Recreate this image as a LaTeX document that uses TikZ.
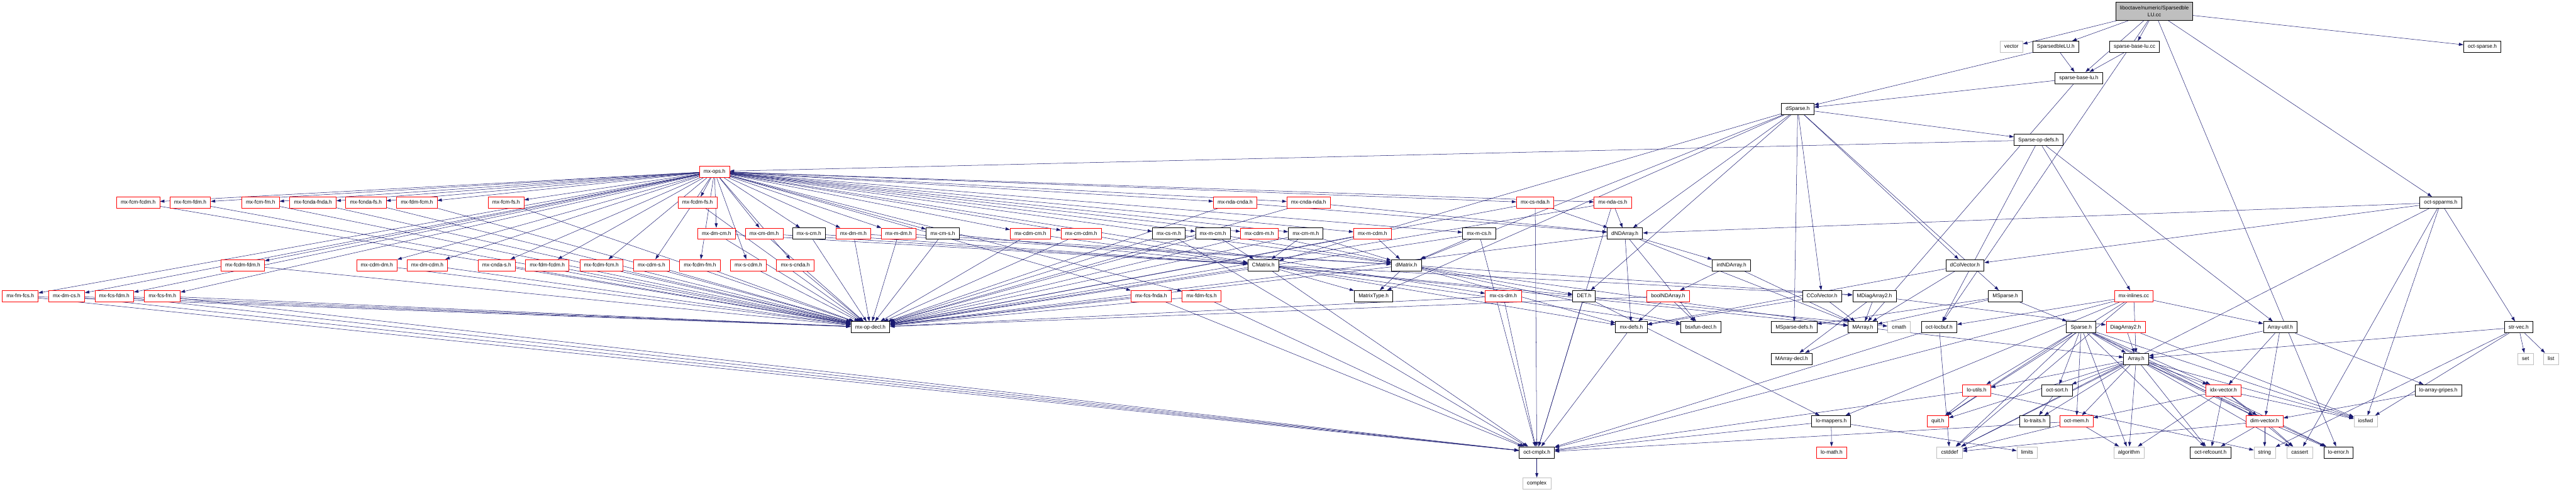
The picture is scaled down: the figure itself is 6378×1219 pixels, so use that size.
\documentclass[tikz,border=0pt]{standalone}
\usepackage{fontspec}
\setmainfont{Liberation Sans}
\usetikzlibrary{arrows.meta}
\definecolor{edgeblue}{HTML}{191970}
\definecolor{sysgrey}{HTML}{BFBFBF}
\pgfdeclarelayer{edges}
\pgfsetlayers{edges,main}

\begin{document}
\begin{tikzpicture}[x=1pt,y=-1pt,>={Triangle[length=11pt,width=7.5pt]},
  font=\fontsize{13}{15}\selectfont,
  hdr/.style={draw=black,line width=1.3pt,fill=white,inner xsep=10.5pt,inner ysep=0pt,
    minimum height=28pt,text height=9.6pt,text depth=2.7pt},
  trunc/.style={hdr,draw=red,line width=1.1pt},
  sys/.style={hdr,draw=sysgrey,line width=1.1pt},
  rootbox/.style={draw=black,line width=1.3pt,fill=sysgrey,align=center,inner xsep=10pt,
    minimum height=45pt,font=\fontsize{13}{16}\selectfont},
  inc/.style={->,draw=edgeblue,line width=0.8pt}]
\useasboundingbox (0,0) rectangle (6378,1219);
% ================ top: the file and its direct headers ================
\node[rootbox] (root) at (5334,28) {liboctave/numeric/Sparsedble\\LU.cc};
\node[sys] (vector) at (4980,116) {vector};
\node[hdr] (sdlu) at (5090,116) {SparsedbleLU.h};
\node[hdr] (sblcc) at (5285,116) {sparse-base-lu.cc};
\node[hdr] (octsparse) at (6146,116) {oct-sparse.h};
\node[hdr] (sblh) at (5147,193) {sparse-base-lu.h};
\node[hdr] (dsparse) at (4451,270) {dSparse.h};
\node[hdr] (spopdefs) at (5047,347) {Sparse-op-defs.h};
\node[trunc] (mxops) at (1769,425) {mx-ops.h};
% ================ mx-*.h rows ================
\node[trunc] (mxfcmfcdm) at (342,502) {mx-fcm-fcdm.h};
\node[trunc] (mxfcmfdm) at (471,502) {mx-fcm-fdm.h};
\node[trunc] (mxfcmfm) at (645,502) {mx-fcm-fm.h};
\node[trunc] (mxfcndafnda) at (775,502) {mx-fcnda-fnda.h};
\node[trunc] (mxfcndafs) at (906,502) {mx-fcnda-fs.h};
\node[trunc] (mxfdmfcm) at (1032,502) {mx-fdm-fcm.h};
\node[trunc] (mxfcmfs) at (1253,502) {mx-fcm-fs.h};
\node[trunc] (mxfcdmfs) at (1727,502) {mx-fcdm-fs.h};
\node[trunc] (mxndacnda) at (3058,502) {mx-nda-cnda.h};
\node[trunc] (mxcndanda) at (3240,502) {mx-cnda-nda.h};
\node[trunc] (mxcsnda) at (3801,502) {mx-cs-nda.h};
\node[trunc] (mxndacs) at (3993,502) {mx-nda-cs.h};
\node[hdr] (octspparms) at (6043,502) {oct-spparms.h};
%
\node[trunc] (mxdmcm) at (1774,579) {mx-dm-cm.h};
\node[trunc] (mxcmdm) at (1892,579) {mx-cm-dm.h};
\node[hdr] (mxscm) at (2003,579) {mx-s-cm.h};
\node[trunc] (mxdmm) at (2113,579) {mx-dm-m.h};
\node[trunc] (mxmdm) at (2225,579) {mx-m-dm.h};
\node[hdr] (mxcms) at (2334,579) {mx-cm-s.h};
\node[trunc] (mxcdmcm) at (2551,579) {mx-cdm-cm.h};
\node[trunc] (mxcmcdm) at (2677,579) {mx-cm-cdm.h};
\node[hdr] (mxcsm) at (2894,579) {mx-cs-m.h};
\node[hdr] (mxmcm) at (3003,579) {mx-m-cm.h};
\node[trunc] (mxcdmm) at (3118,579) {mx-cdm-m.h};
\node[hdr] (mxcmm) at (3233,579) {mx-cm-m.h};
\node[trunc] (mxmcdm) at (3398,579) {mx-m-cdm.h};
\node[hdr] (mxmcs) at (3662,579) {mx-m-cs.h};
\node[hdr] (dndarray) at (4023,579) {dNDArray.h};
%
\node[trunc] (mxfcdmfdm) at (601,657) {mx-fcdm-fdm.h};
\node[trunc] (mxcdmdm) at (933,657) {mx-cdm-dm.h};
\node[trunc] (mxdmcdm) at (1058,657) {mx-dm-cdm.h};
\node[trunc] (mxcndas) at (1230,657) {mx-cnda-s.h};
\node[trunc] (mxfdmfcdm) at (1355,657) {mx-fdm-fcdm.h};
\node[trunc] (mxfcdmfcm) at (1489,657) {mx-fcdm-fcm.h};
\node[trunc] (mxcdms) at (1613,657) {mx-cdm-s.h};
\node[trunc] (mxfcdmfm) at (1733,657) {mx-fcdm-fm.h};
\node[trunc] (mxscdm) at (1853,657) {mx-s-cdm.h};
\node[trunc] (mxscnda) at (1969,657) {mx-s-cnda.h};
\node[hdr] (cmatrix) at (3128,657) {CMatrix.h};
\node[hdr] (dmatrix) at (3482,657) {dMatrix.h};
\node[hdr] (intnda) at (4287,657) {intNDArray.h};
\node[hdr] (dcolvec) at (4865,657) {dColVector.h};
%
\node[trunc] (mxfmfcs) at (50,734) {mx-fm-fcs.h};
\node[trunc] (mxdmcs) at (165,734) {mx-dm-cs.h};
\node[trunc] (mxfcsfdm) at (283,734) {mx-fcs-fdm.h};
\node[trunc] (mxfcsfm) at (402,734) {mx-fcs-fm.h};
\node[trunc] (mxfcsfnda) at (2850,734) {mx-fcs-fnda.h};
\node[trunc] (mxfdmfcs) at (2975,734) {mx-fdm-fcs.h};
\node[hdr] (matrixtype) at (3401,734) {MatrixType.h};
\node[trunc] (mxcsdm) at (3722,734) {mx-cs-dm.h};
\node[hdr] (det) at (3922,734) {DET.h};
\node[trunc] (boolnda) at (4130,734) {boolNDArray.h};
\node[hdr] (ccolvec) at (4511,734) {CColVector.h};
\node[hdr] (mdiag) at (4641,734) {MDiagArray2.h};
\node[hdr] (msparse) at (4965,734) {MSparse.h};
\node[trunc] (mxinl) at (5283,734) {mx-inlines.cc};
% ================ lower rows: liboctave/array, util and system ================
\node[hdr] (mxopdecl) at (2155,811) {mx-op-decl.h};
\node[hdr] (mxdefs) at (4039,811) {mx-defs.h};
\node[hdr] (bsxfun) at (4211,811) {bsxfun-decl.h};
\node[hdr] (msparsedefs) at (4442,811) {MSparse-defs.h};
\node[hdr] (marray) at (4612,811) {MArray.h};
\node[sys] (cmath) at (4702,811) {cmath};
\node[hdr] (locbuf) at (4801,811) {oct-locbuf.h};
\node[hdr] (sparse) at (5153,811) {Sparse.h};
\node[trunc] (diagarray) at (5263,811) {DiagArray2.h};
\node[hdr] (arrayutil) at (5646,811) {Array-util.h};
\node[hdr] (strvec) at (6236,811) {str-vec.h};
%
\node[hdr] (marraydecl) at (4436,889) {MArray-decl.h};
\node[hdr] (array) at (5289,889) {Array.h};
\node[sys] (set) at (6253,889) {set};
\node[sys] (list) at (6316,889) {list};
%
\node[trunc] (loutils) at (4894,967) {lo-utils.h};
\node[hdr] (octsort) at (5093,967) {oct-sort.h};
\node[trunc] (idxvec) at (5505,967) {idx-vector.h};
\node[hdr] (gripes) at (6037,967) {lo-array-gripes.h};
%
\node[hdr] (lomappers) at (4534,1044) {lo-mappers.h};
\node[trunc] (quit) at (4798,1044) {quit.h};
\node[hdr] (lotraits) at (5038,1044) {lo-traits.h};
\node[trunc] (octmem) at (5141,1044) {oct-mem.h};
\node[trunc] (dimvec) at (5607,1044) {dim-vector.h};
\node[sys] (iosfwd) at (5857,1044) {iosfwd};
%
\node[hdr] (octcmplx) at (3805,1121) {oct-cmplx.h};
\node[trunc] (lomath) at (4535,1121) {lo-math.h};
\node[sys] (cstddef) at (4827,1121) {cstddef};
\node[sys] (limits) at (5019,1121) {limits};
\node[sys] (algorithm) at (5271,1121) {algorithm};
\node[hdr] (refcount) at (5473,1121) {oct-refcount.h};
\node[sys] (string) at (5607,1121) {string};
\node[sys] (cassert) at (5694,1121) {cassert};
\node[hdr] (loerror) at (5790,1121) {lo-error.h};
%
\node[sys] (complex) at (3805,1198) {complex};
% ================ include edges ================
\begin{pgfonlayer}{edges}
\foreach \t in {vector,sdlu,sblh,sblcc,octsparse,octspparms,loerror,locbuf}
  \draw[inc] (root) -- (\t);
\draw[inc] (sdlu) -- (sblh);
\draw[inc] (sdlu) -- (dsparse);
\draw[inc] (sblcc) -- (sblh);
\foreach \t in {dsparse,marray} \draw[inc] (sblh) -- (\t);
\foreach \t in {dmatrix,dndarray,cmatrix,dcolvec,ccolvec,det,msparse,msparsedefs,spopdefs,matrixtype}
  \draw[inc] (dsparse) -- (\t);
\foreach \t in {mxops,arrayutil,locbuf,mxinl} \draw[inc] (spopdefs) -- (\t);
% mx-ops.h pulls in every mx-*.h, and each of them mx-op-decl.h
\foreach \m in {mxfcmfcdm,mxfcmfdm,mxfcmfm,mxfcndafnda,mxfcndafs,mxfdmfcm,mxfcmfs,mxfcdmfs,
    mxndacnda,mxcndanda,mxcsnda,mxndacs,
    mxdmcm,mxcmdm,mxscm,mxdmm,mxmdm,mxcms,mxcdmcm,mxcmcdm,mxcsm,mxmcm,mxcdmm,mxcmm,mxmcdm,mxmcs,
    mxfcdmfdm,mxcdmdm,mxdmcdm,mxcndas,mxfdmfcdm,mxfcdmfcm,mxcdms,mxfcdmfm,mxscdm,mxscnda,
    mxfmfcs,mxdmcs,mxfcsfdm,mxfcsfm,mxfcsfnda,mxfdmfcs,mxcsdm}{
  \draw[inc] (mxops) -- (\m);
  \draw[inc] (\m) -- (mxopdecl);
}
\foreach \m in {mxndacnda,mxcndanda,mxcsnda,mxndacs} \draw[inc] (\m) -- (dndarray);
\foreach \m in {mxdmm,mxmdm,mxcdmm,mxmcdm,mxcsm,mxmcs,mxmcm,mxcmm} \draw[inc] (\m) -- (dmatrix);
\foreach \m in {mxdmcm,mxcmdm,mxscm,mxcms,mxcdmcm,mxcmcdm,mxmcm,mxcmm} \draw[inc] (\m) -- (cmatrix);
\foreach \m in {mxcsnda,mxndacs,mxcsm,mxmcs,mxfmfcs,mxdmcs,mxfcsfdm,mxfcsfm,mxfcsfnda,mxfdmfcs,mxcsdm}
  \draw[inc] (\m) -- (octcmplx);
% matrix and array headers
\foreach \t in {matrixtype,mxopdecl,det,marray,mdiag,mxdefs,bsxfun} \draw[inc] (dmatrix) -- (\t);
\foreach \t in {mxopdecl,octcmplx,matrixtype,det,marray,mdiag,mxdefs,bsxfun} \draw[inc] (cmatrix) -- (\t);
\foreach \t in {intnda,mxdefs,mxopdecl,bsxfun,marray} \draw[inc] (dndarray) -- (\t);
\foreach \t in {boolnda,marray} \draw[inc] (intnda) -- (\t);
\foreach \t in {mxdefs,bsxfun,mxopdecl} \draw[inc] (boolnda) -- (\t);
\foreach \t in {octcmplx,lomappers,cmath} \draw[inc] (det) -- (\t);
\draw[inc] (mxdefs) -- (octcmplx);
\foreach \t in {marray,mxdefs} \draw[inc] (ccolvec) -- (\t);
\foreach \t in {marray,mxdefs} \draw[inc] (dcolvec) -- (\t);
\foreach \t in {marray,marraydecl,diagarray} \draw[inc] (mdiag) -- (\t);
\foreach \t in {msparsedefs,marray,sparse} \draw[inc] (msparse) -- (\t);
\foreach \t in {marraydecl,array} \draw[inc] (marray) -- (\t);
\foreach \t in {cstddef,octcmplx} \draw[inc] (locbuf) -- (\t);
\foreach \t in {array,loutils,octsort,quit,octmem,algorithm,cstddef,idxvec,dimvec,refcount,iosfwd,loerror}
  \draw[inc] (sparse) -- (\t);
\foreach \t in {array,iosfwd} \draw[inc] (diagarray) -- (\t);
\foreach \t in {arrayutil,array,locbuf,quit,octcmplx,cstddef,lomappers} \draw[inc] (mxinl) -- (\t);
\foreach \t in {array,idxvec,dimvec,gripes} \draw[inc] (arrayutil) -- (\t);
\foreach \t in {loutils,octsort,lotraits,octmem,algorithm,quit,cstddef,idxvec,dimvec,refcount,iosfwd,cassert,loerror}
  \draw[inc] (array) -- (\t);
% util and system headers
\foreach \t in {quit,octcmplx,string} \draw[inc] (loutils) -- (\t);
\draw[inc] (octsort) -- (lotraits);
\foreach \t in {lomath,octcmplx,limits} \draw[inc] (lomappers) -- (\t);
\foreach \t in {cstddef,algorithm,octcmplx} \draw[inc] (octmem) -- (\t);
\foreach \t in {dimvec,refcount,cassert,iosfwd,octmem,algorithm} \draw[inc] (idxvec) -- (\t);
\foreach \t in {refcount,string,cassert,loerror,cstddef} \draw[inc] (dimvec) -- (\t);
\draw[inc] (gripes) -- (dimvec);
\foreach \t in {set,list,array,string,iosfwd} \draw[inc] (strvec) -- (\t);
\foreach \t in {strvec,dndarray,dcolvec,iosfwd,cassert,cstddef} \draw[inc] (octspparms) -- (\t);
\draw[inc] (octcmplx) -- (complex);
\end{pgfonlayer}
\end{tikzpicture}
\end{document}
